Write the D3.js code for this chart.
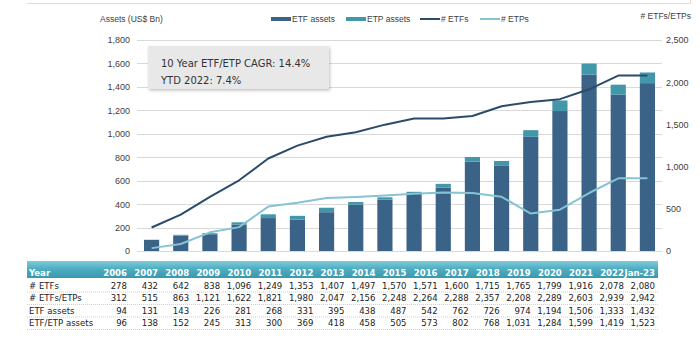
<!DOCTYPE html>
<html><head><meta charset="utf-8">
<script src="https://cdn.jsdelivr.net/npm/d3@7"></script>
<style>
body{margin:0;background:#fff;}
svg{font-family:"Liberation Sans",Arial,sans-serif;}
</style></head>
<body><svg id="c" width="700" height="338"></svg>
<script>
const years = ["2006","2007","2008","2009","2010","2011","2012","2013","2014","2015","2016","2017","2018","2019","2020","2021","2022","Jan-23"];
const numETFs = [278,432,642,838,1096,1249,1353,1407,1497,1570,1571,1600,1715,1765,1799,1916,2078,2080];
const numETFsETPs = [312,515,863,1121,1622,1821,1980,2047,2156,2248,2264,2288,2357,2208,2289,2603,2939,2942];
const numETPs = [34,83,221,283,526,572,627,640,659,678,693,688,642,443,490,687,861,862];
const etfAssets = [94,131,143,226,281,268,331,395,438,487,542,762,726,974,1194,1506,1333,1432];
const etfEtpAssets = [96,138,152,245,313,300,369,418,458,505,573,802,768,1031,1284,1599,1419,1523];
const etpAssets = [2,7,9,19,32,32,38,23,20,18,31,40,42,57,90,93,86,91];
const leftTicks = [0,200,400,600,800,1000,1200,1400,1600,1800];
const rightTicks = [0,500,1000,1500,2000,2500];
const tableRows = [
  {label:"# ETFs", values:numETFs},
  {label:"# ETFs/ETPs", values:numETFsETPs},
  {label:"ETF assets", values:etfAssets},
  {label:"ETF/ETP assets", values:etfEtpAssets}
];

const C = {etf:"#3a6387", etp:"#4397aa", lineETF:"#2b4b6b", lineETP:"#86c4d4", grid:"#d9d9d9", text:"#404040"};
const svg = d3.select("#c");
const x0=137, x1=662, yTop=40, yBot=251;
const x = d3.scaleBand().domain(years).range([x0,x1]).paddingInner(0.48).paddingOuter(0.24);
const yL = d3.scaleLinear().domain([0,1800]).range([yBot,yTop]);
const yR = d3.scaleLinear().domain([0,2500]).range([yBot,yTop]);
const fmt = d3.format(",");

// top frame remnant
svg.append("path").attr("d","M27,3.5H690.5V0").attr("fill","none").attr("stroke","#dcdcdc");

// gridlines
svg.append("g").selectAll("line").data(leftTicks).join("line")
  .attr("x1",x0).attr("x2",x1).attr("y1",d=>Math.round(yL(d))+0.5).attr("y2",d=>Math.round(yL(d))+0.5)
  .attr("stroke",C.grid).attr("stroke-width",1);

// left axis
const gL = svg.append("g").attr("transform",`translate(${x0-7},0)`)
  .call(d3.axisLeft(yL).tickValues(leftTicks).tickFormat(fmt).tickSize(0).tickPadding(0));
gL.select(".domain").remove();
gL.selectAll("text").attr("font-size",9).attr("fill",C.text).attr("font-family","Liberation Sans, Arial, sans-serif");
// right axis
const gR = svg.append("g").attr("transform",`translate(${x1+4},0)`)
  .call(d3.axisRight(yR).tickValues(rightTicks).tickFormat(fmt).tickSize(0).tickPadding(0));
gR.select(".domain").remove();
gR.selectAll("text").attr("font-size",9).attr("fill",C.text).attr("font-family","Liberation Sans, Arial, sans-serif");

// bars
const bars = svg.append("g");
bars.selectAll("rect.etf").data(years).join("rect").attr("class","etf")
  .attr("x",d=>x(d)).attr("width",x.bandwidth())
  .attr("y",(d,i)=>yL(etfAssets[i])).attr("height",(d,i)=>yL(0)-yL(etfAssets[i]))
  .attr("fill",C.etf);
bars.selectAll("rect.etp").data(years).join("rect").attr("class","etp")
  .attr("x",d=>x(d)).attr("width",x.bandwidth())
  .attr("y",(d,i)=>yL(etfAssets[i]+etpAssets[i])).attr("height",(d,i)=>yL(etfAssets[i])-yL(etfAssets[i]+etpAssets[i]))
  .attr("fill",C.etp);

// lines
const cx = d=>x(d)+x.bandwidth()/2;
const lineETF = d3.line().x((d,i)=>cx(years[i])).y(d=>yR(d));
svg.append("path").datum(numETFs).attr("d",lineETF).attr("fill","none").attr("stroke",C.lineETF).attr("stroke-width",2).attr("stroke-linejoin","round");
svg.append("path").datum(numETPs).attr("d",lineETF).attr("fill","none").attr("stroke",C.lineETP).attr("stroke-width",2).attr("stroke-linejoin","round");

// axis titles
svg.append("text").attr("x",100).attr("y",22).attr("font-size",8.5).attr("fill",C.text).text("Assets (US$ Bn)");
svg.append("text").attr("x",691).attr("y",19).attr("text-anchor","end").attr("font-size",8.5).attr("fill",C.text).text("# ETFs/ETPs");

// legend
const legend = [
  {label:"ETF assets", type:"rect", color:C.etf, x:271},
  {label:"ETP assets", type:"rect", color:C.etp, x:346},
  {label:"# ETFs", type:"line", color:C.lineETF, x:420},
  {label:"# ETPs", type:"line", color:C.lineETP, x:480}
];
const lg = svg.append("g");
legend.forEach(l=>{
  if(l.type==="rect") lg.append("rect").attr("x",l.x).attr("y",17).attr("width",20).attr("height",4).attr("fill",l.color);
  else lg.append("line").attr("x1",l.x).attr("x2",l.x+20).attr("y1",19).attr("y2",19).attr("stroke",l.color).attr("stroke-width",2);
  lg.append("text").attr("x",l.x+21).attr("y",22).attr("font-size",8.5).attr("fill",C.text).text(l.label);
});

// annotation box
const defs = svg.append("defs");
const f = defs.append("filter").attr("id","sh").attr("x","-10%").attr("y","-20%").attr("width","130%").attr("height","150%");
f.append("feDropShadow").attr("dx",1).attr("dy",1.5).attr("stdDeviation",1.5).attr("flood-color","#000").attr("flood-opacity",0.25);
svg.append("rect").attr("x",148).attr("y",46).attr("width",181).attr("height",43).attr("fill","#e8e8e8").attr("filter","url(#sh)");
svg.append("text").attr("x",161).attr("y",67).attr("font-size",11.1).attr("fill","#333").attr("font-family","DejaVu Sans Condensed, DejaVu Sans, sans-serif").text("10 Year ETF/ETP CAGR: 14.4%");
svg.append("text").attr("x",161).attr("y",84).attr("font-size",11.1).attr("fill","#333").attr("font-family","DejaVu Sans Condensed, DejaVu Sans, sans-serif").text("YTD 2022: 7.4%");

// table
const grad = defs.append("linearGradient").attr("id","hg").attr("x1",0).attr("x2",0).attr("y1",0).attr("y2",1);
grad.append("stop").attr("offset","0%").attr("stop-color","#7fcbd9");
grad.append("stop").attr("offset","45%").attr("stop-color","#4eaec2");
grad.append("stop").attr("offset","100%").attr("stop-color","#3a98ad");
const tx0=27, tx1=658;
svg.append("rect").attr("x",tx0).attr("y",261).attr("width",tx1-tx0).attr("height",17).attr("fill","url(#hg)");
const colX = d3.scaleLinear().domain([0,years.length-1]).range([127,655]);
const tbl = svg.append("g").attr("font-size",9.5).attr("font-family","DejaVu Sans Condensed, Liberation Sans, Arial, sans-serif");
tbl.append("text").attr("x",29).attr("y",276).attr("fill","#fff").attr("font-weight","bold").text("Year");
tbl.selectAll("text.h").data(years).join("text").attr("class","h")
  .attr("x",(d,i)=>colX(i)).attr("y",276).attr("text-anchor","end").attr("fill","#fff").attr("font-weight","bold").text(d=>d);
const rowY = [288.5,301,313.5,326];
tableRows.forEach((r,ri)=>{
  tbl.append("text").attr("x",29).attr("y",rowY[ri]).attr("fill","#222").text(r.label);
  tbl.selectAll("text.r"+ri).data(r.values).join("text").attr("class","r"+ri)
    .attr("x",(d,i)=>colX(i)).attr("y",rowY[ri]).attr("text-anchor","end").attr("fill","#222").text(d=>fmt(d));
  svg.append("line").attr("x1",tx0).attr("x2",tx1).attr("y1",rowY[ri]+3.5).attr("y2",rowY[ri]+3.5)
    .attr("stroke","#cfcfcf").attr("stroke-dasharray","1,1");
});
</script></body></html>
